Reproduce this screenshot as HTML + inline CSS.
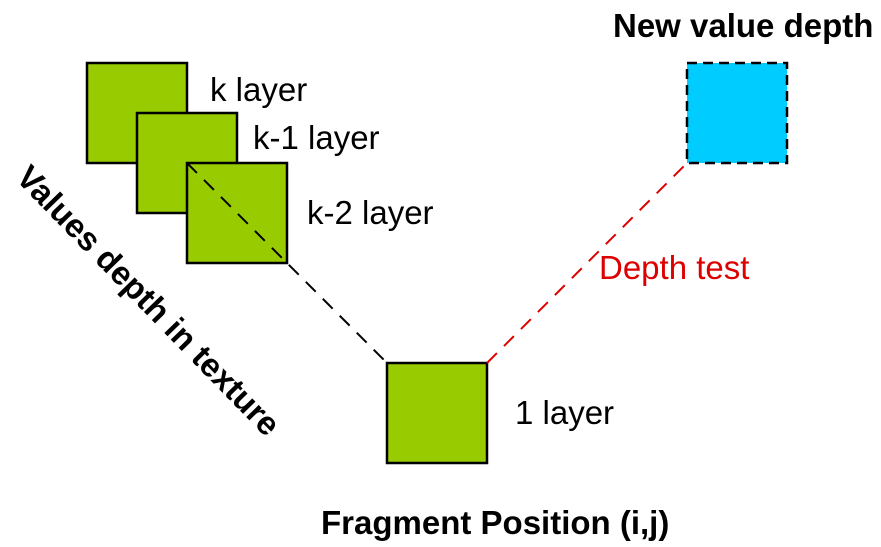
<!DOCTYPE html>
<html><head><meta charset="utf-8"><style>
html,body{margin:0;padding:0;background:#fff;}
svg{display:block;font-family:"Liberation Sans",sans-serif;}
</style></head><body>
<svg width="881" height="547" viewBox="0 0 881 547">
  <rect x="87" y="63" width="100" height="100" fill="#99cc00" stroke="#000" stroke-width="2.5"/>
  <rect x="137" y="113" width="100" height="100" fill="#99cc00" stroke="#000" stroke-width="2.5"/>
  <rect x="187" y="163" width="100" height="100" fill="#99cc00" stroke="#000" stroke-width="2.5"/>
  <line x1="187" y1="163" x2="387" y2="363" stroke="#000" stroke-width="2" stroke-dasharray="14,10"/>
  <rect x="387" y="363" width="100" height="100" fill="#99cc00" stroke="#000" stroke-width="2.5"/>
  <line x1="487" y1="363" x2="687" y2="163" stroke="#dd0000" stroke-width="2" stroke-dasharray="14,10"/>
  <rect x="687" y="63" width="100" height="100" fill="#00ccff" stroke="#000" stroke-width="2.5" stroke-dasharray="10,6"/>
  <text x="210" y="101" font-size="33">k layer</text>
  <text x="253" y="149" font-size="33">k-1 layer</text>
  <text x="307" y="224" font-size="33">k-2 layer</text>
  <text x="515" y="424" font-size="33">1 layer</text>
  <text x="599" y="279" font-size="33" fill="#dd0000">Depth test</text>
  <text x="613" y="37" font-size="33" font-weight="bold">New value depth</text>
  <text x="321" y="534" font-size="33" font-weight="bold">Fragment Position (i,j)</text>
  <text x="0" y="0" font-size="33" font-weight="bold" text-anchor="middle" transform="translate(149,300) rotate(45.8) translate(0,12)">Values depth in texture</text>
</svg>
</body></html>
